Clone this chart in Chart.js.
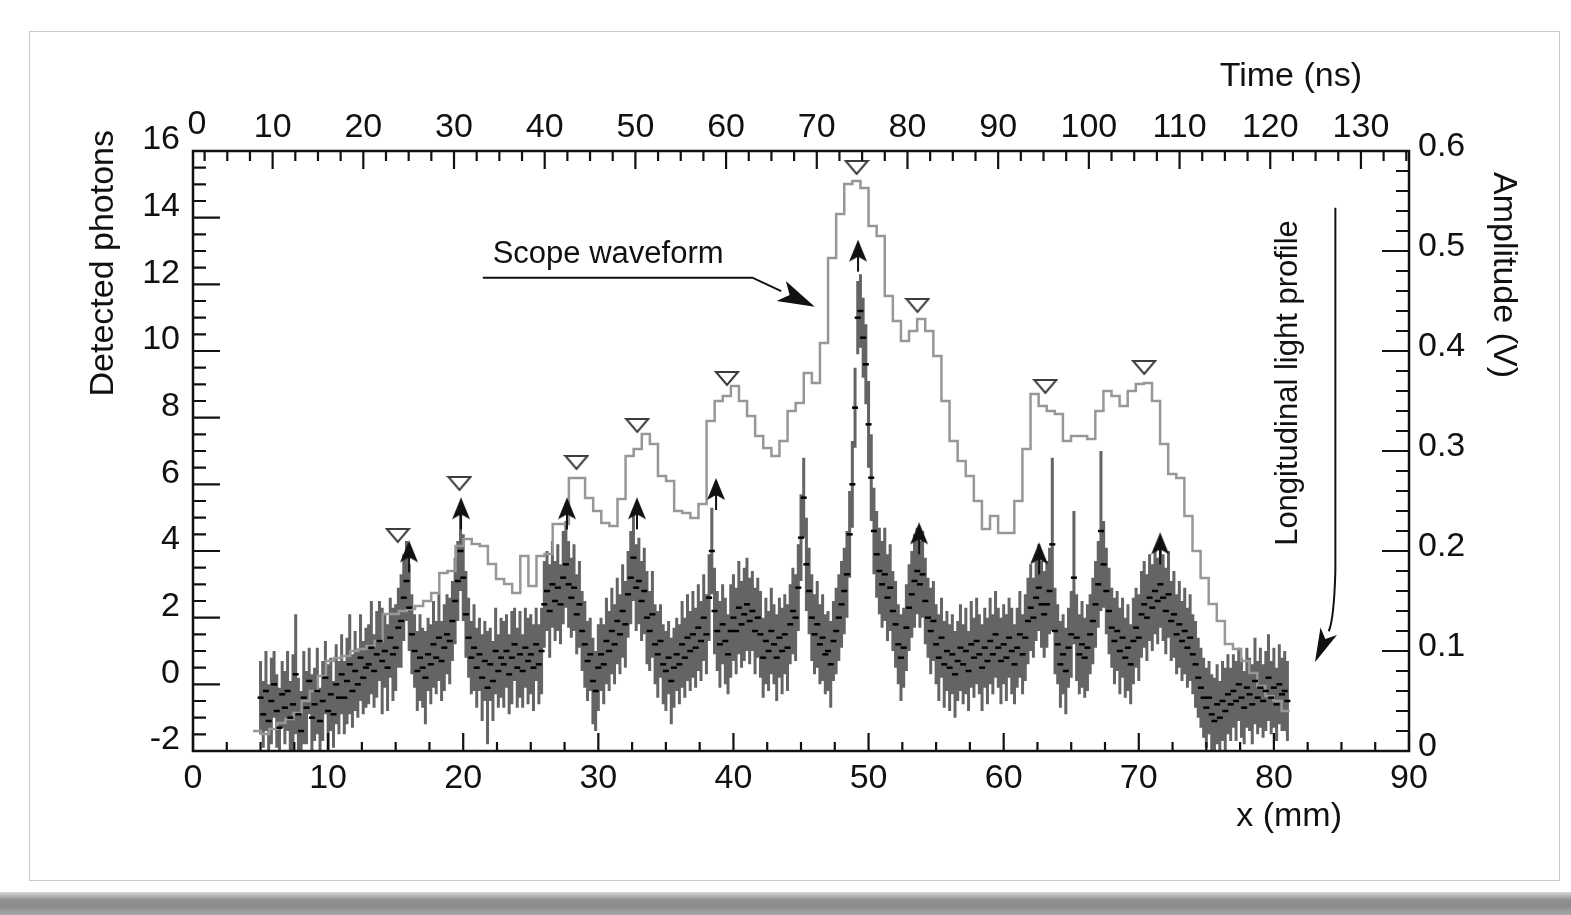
<!DOCTYPE html>
<html>
<head>
<meta charset="utf-8">
<title>Scope waveform and longitudinal light profile</title>
<script src="https://cdn.jsdelivr.net/npm/chart.js@4.4.1/dist/chart.umd.min.js"></script>
<style>
  html, body { margin: 0; padding: 0; background: #ffffff; width: 1571px; height: 915px; overflow: hidden; }
  #shadow { position: absolute; left: 0; top: 892px; width: 1571px; height: 23px;
            background: linear-gradient(to bottom, #d6d6d6 0%, #8f8f8f 35%, #8a8a8a 60%, #a8a8a8 100%); }
  #card { position: absolute; left: 29px; top: 31px; width: 1529px; height: 848px;
          border: 1px solid #cbcbcb; background: #ffffff; }
  #wrap { position: absolute; left: 0; top: 0; width: 1571px; height: 915px; }
</style>
</head>
<body>
<div id="shadow"></div>
<div id="card"></div>
<div id="wrap"><canvas id="chart" width="1571" height="915"></canvas></div>
<script>
// ---- axis tick values ----
const xTicksMM       = [0, 10, 20, 30, 40, 50, 60, 70, 80, 90];
const timeTicksNs    = [0, 10, 20, 30, 40, 50, 60, 70, 80, 90, 100, 110, 120, 130];
const photonTicks    = [-2, 0, 2, 4, 6, 8, 10, 12, 14, 16];
const amplitudeTicks = [0, 0.1, 0.2, 0.3, 0.4, 0.5, 0.6];

// ---- longitudinal light profile: detected photons every 0.2 mm from x = 5.0 mm ----
const PROFILE_X0 = 5.0;
const PROFILE_DX = 0.2;
const photons = [
  -0.4, -0.9, -0.2, -1.1, -0.5,  0.0, -0.8, -1.3, -0.3, -0.7,
  -0.2, -1.0, -0.6,  0.3, -0.9, -1.4, -0.4, -0.7,  0.1, -1.0,
  -0.6, -0.2, -1.1, -0.5,  0.2, -0.8, -0.3, -0.9,  0.0, -0.4,
   0.3, -0.4,  0.1,  0.6, -0.2,  0.4,  0.0,  0.8,  0.2,  0.5,
   0.6,  1.1,  0.4,  0.9,  1.3,  0.7,  1.0,  0.5,  1.4,  0.9,
   1.1,  1.7,  1.9,  2.6,  3.1,  2.3,  1.5,  1.0,  0.4,  0.8,
   0.5,  0.2,  0.9,  0.6,  1.2,  0.8,  1.4,  0.7,  1.1,  1.5,
   1.3,  1.9,  2.5,  3.1,  4.0,  3.2,  2.1,  1.4,  0.8,  1.1,
   0.5,  0.9,  0.2,  0.7, -0.1,  0.6,  0.1,  1.0,  0.4,  0.8,
   0.6,  1.0,  0.3,  0.8,  1.2,  0.5,  0.9,  0.4,  1.1,  0.7,
   0.9,  0.5,  1.2,  0.6,  1.0,  2.4,  2.8,  2.2,  3.0,  2.5,
   2.9,  2.4,  3.2,  3.6,  3.0,  2.6,  2.9,  2.1,  2.4,  1.6,
   1.2,  0.7,  0.9,  0.1, -0.2,  0.5,  0.9,  0.6,  1.3,  1.0,
   1.6,  1.2,  1.9,  1.5,  2.2,  1.8,  2.7,  3.2,  3.8,  2.9,
   3.1,  2.5,  2.8,  2.0,  1.6,  2.1,  1.2,  0.9,  1.3,  0.6,
   0.4,  0.8,  0.1,  0.5,  0.9,  0.6,  1.2,  0.8,  1.4,  1.0,
   1.5,  1.1,  1.7,  1.3,  2.0,  1.5,  2.6,  4.0,  2.2,  1.6,
   1.2,  1.8,  1.3,  0.9,  1.6,  2.0,  1.6,  2.3,  1.8,  2.1,
   2.4,  1.9,  2.2,  1.6,  2.0,  1.5,  0.8,  1.3,  1.0,  1.6,
   1.2,  0.8,  1.4,  1.0,  1.5,  1.1,  1.8,  2.2,  2.0,  2.9,
   4.4,  5.6,  3.6,  2.8,  2.0,  1.5,  1.8,  1.2,  1.4,  0.9,
   1.0,  0.6,  1.3,  1.6,  2.0,  2.4,  2.8,  3.3,  4.5,  6.0,
   8.3, 11.0, 11.2, 10.4,  9.6,  7.8,  6.2,  4.6,  3.9,  3.4,
   3.0,  3.3,  2.6,  2.9,  2.2,  1.8,  1.2,  0.8,  1.1,  1.7,
   2.3,  2.7,  3.1,  3.4,  3.0,  3.3,  2.5,  2.0,  1.6,  1.9,
   1.2,  0.8,  1.4,  0.6,  1.0,  0.5,  0.9,  0.3,  0.7,  1.1,
   0.6,  1.0,  0.4,  1.2,  0.8,  1.3,  0.9,  0.5,  1.1,  0.7,
   1.3,  0.9,  1.5,  1.1,  0.7,  1.2,  0.8,  1.4,  1.0,  0.6,
   1.1,  1.5,  0.9,  1.4,  1.9,  2.3,  2.0,  2.6,  2.9,  2.4,
   2.1,  2.4,  2.8,  4.2,  1.6,  1.2,  0.6,  0.9,  0.4,  1.1,
   1.5,  3.2,  1.4,  0.9,  1.2,  0.8,  1.1,  1.5,  1.9,  2.4,
   3.0,  4.6,  3.6,  2.8,  2.2,  1.7,  1.3,  1.6,  1.0,  1.4,
   0.8,  1.1,  0.6,  1.3,  1.7,  1.4,  2.1,  2.4,  2.0,  2.6,
   2.3,  2.8,  2.5,  3.0,  2.6,  2.2,  2.7,  1.9,  2.1,  1.5,
   1.8,  1.3,  1.6,  1.1,  1.4,  0.9,  0.6,  0.2, -0.1, -0.4,
  -0.7, -0.4, -0.9, -1.1, -0.6, -1.0, -0.5, -0.8, -0.3, -0.6,
  -0.2, -0.5,  0.0, -0.4, -0.7, -0.1, -0.3, -0.6,  0.1, -0.4,
  -0.1, -0.5, -0.2,  0.2, -0.4, -0.1, -0.6,  0.0, -0.3, -0.2,
  -0.5
];
// half-length of each error bar, in tenths of a photon
const photonErr10 = [
  11, 10, 12, 11, 13, 10, 11, 12, 10, 11,
  12, 11, 15, 18, 11, 12, 14, 11, 10, 13,
  11, 13, 10, 12, 11, 14, 11, 10, 12, 11,
  12, 11, 13, 15, 11, 12, 10, 13, 11, 12,
  12, 14, 11, 13, 12, 16, 11, 13, 12, 14,
  13, 12, 14, 13, 12, 13, 12, 11, 12, 13,
  12, 14, 11, 12, 13, 11, 13, 12, 13, 12,
  13, 12, 13, 12, 12, 13, 13, 12, 11, 13,
  12, 11, 13, 12, 17, 11, 12, 13, 11, 12,
  13, 11, 12, 14, 11, 12, 13, 11, 12, 13,
  12, 13, 11, 12, 13, 13, 12, 14, 13, 12,
  13, 12, 14, 13, 13, 12, 13, 12, 13, 12,
  13, 12, 11, 13, 12, 13, 11, 12, 13, 12,
  13, 12, 13, 12, 14, 13, 13, 14, 13, 13,
  13, 12, 13, 14, 12, 13, 12, 13, 11, 12,
  12, 11, 13, 12, 11, 12, 13, 12, 13, 12,
  13, 12, 13, 12, 13, 12, 13, 13, 13, 12,
  13, 12, 13, 12, 14, 13, 13, 14, 13, 14,
  14, 13, 12, 13, 12, 13, 12, 13, 12, 13,
  12, 13, 12, 13, 12, 13, 12, 13, 13, 13,
  13, 12, 14, 13, 13, 12, 13, 12, 13, 12,
  12, 13, 12, 13, 13, 13, 13, 13, 13, 13,
  12, 11, 11, 12, 12, 13, 13, 13, 13, 13,
  13, 14, 13, 13, 12, 13, 12, 13, 12, 13,
  13, 13, 14, 13, 13, 13, 13, 12, 13, 12,
  12, 13, 12, 13, 12, 13, 12, 13, 12, 13,
  12, 13, 12, 13, 12, 13, 12, 13, 12, 13,
  13, 12, 13, 12, 13, 12, 13, 12, 13, 12,
  12, 13, 12, 13, 13, 13, 12, 13, 13, 13,
  13, 13, 13, 26, 13, 12, 13, 12, 13, 12,
  13, 20, 13, 12, 13, 12, 13, 12, 13, 13,
  13, 24, 13, 13, 13, 12, 13, 12, 13, 12,
  12, 13, 12, 13, 12, 13, 13, 13, 13, 13,
  13, 13, 13, 13, 13, 13, 13, 12, 13, 12,
  13, 12, 13, 12, 13, 12, 13, 12, 12, 12,
  12, 11, 12, 13, 12, 11, 12, 13, 12, 11,
  11, 12, 11, 12, 11, 12, 11, 12, 13, 11,
  12, 11, 12, 13, 11, 12, 11, 12, 11, 12,
  12
];

// ---- scope waveform: amplitude (V) per time bin ----
const WF_T0 = 7.84;   // ns, left edge of the first bin
const WF_DT = 0.893;  // ns, bin width
const amplitude = [
  0.020, 0.017, 0.022, 0.028, 0.032, 0.038, 0.050, 0.060, 0.075, 0.090,
  0.093, 0.095, 0.100, 0.102, 0.105, 0.110, 0.137, 0.137, 0.140, 0.142,
  0.145, 0.150, 0.158, 0.178, 0.180, 0.205, 0.212, 0.207, 0.205, 0.187,
  0.172, 0.167, 0.158, 0.195, 0.165, 0.195, 0.197, 0.227, 0.227, 0.273,
  0.273, 0.253, 0.240, 0.228, 0.225, 0.252, 0.295, 0.302, 0.317, 0.307,
  0.275, 0.270, 0.240, 0.238, 0.233, 0.247, 0.330, 0.350, 0.355, 0.365,
  0.350, 0.335, 0.315, 0.303, 0.295, 0.310, 0.340, 0.348, 0.378, 0.368,
  0.408, 0.493, 0.537, 0.567, 0.570, 0.563, 0.525, 0.515, 0.455, 0.430,
  0.410, 0.420, 0.432, 0.420, 0.395, 0.350, 0.310, 0.290, 0.275, 0.250,
  0.222, 0.235, 0.218, 0.218, 0.250, 0.302, 0.357, 0.345, 0.340, 0.337,
  0.310, 0.315, 0.315, 0.312, 0.340, 0.360, 0.355, 0.345, 0.360, 0.367,
  0.368, 0.350, 0.307, 0.277, 0.273, 0.235, 0.200, 0.173, 0.147, 0.130,
  0.107, 0.102, 0.090, 0.078, 0.065, 0.055, 0.050, 0.040
];

// ---- peak markers ----
const waveformPeakTime = [23.8, 30.6, 43.5, 50.2, 60.1, 74.4, 81.1, 95.2, 106.1];
const waveformPeakAmp  = [0.216, 0.268, 0.289, 0.326, 0.373, 0.584, 0.446, 0.365, 0.384];
const profilePeakX     = [15.99, 19.84, 27.68, 32.86, 38.71, 49.22, 53.74, 62.62, 71.58];
const profilePeakY     = [3.72, 5.01, 5.01, 5.01, 5.59, 12.74, 4.26, 3.66, 3.96];

// ---- annotation anchors (x in mm, y in detected photons) ----
const scopeLabel   = { text: 'Scope waveform', x: 22.18, y: 12.89 };
const scopeArrow   = [[21.45, 12.20], [41.40, 12.20], [46.02, 11.33]];
const profileLabel = { text: 'Longitudinal light profile', x: 81.1, y: 9.04 };
const profileArrow = { top: [84.55, 14.30], bend: [84.55, 3.40], ctrl: [84.45, 1.95], tip: [83.04, 0.66] };

const FONT = '"Liberation Sans", Arial, Helvetica, sans-serif';
const INK = '#111111';

// ---- marker images ----
function triangleMarker() {
  const c = document.createElement('canvas');
  c.width = 26; c.height = 18;
  const g = c.getContext('2d');
  g.fillStyle = '#ffffff';
  g.strokeStyle = '#3c3c3c';
  g.lineWidth = 2;
  g.beginPath();
  g.moveTo(2, 3); g.lineTo(24, 3); g.lineTo(13, 16); g.closePath();
  g.fill(); g.stroke();
  return c;
}
function arrowMarker() {
  const c = document.createElement('canvas');
  c.width = 20; c.height = 40;
  const g = c.getContext('2d');
  g.fillStyle = INK;
  g.fillRect(9, 12, 2, 20);
  g.beginPath();
  g.moveTo(10, 0); g.lineTo(19, 22); g.lineTo(10, 17); g.lineTo(1, 22); g.closePath();
  g.fill();
  return c;
}

// ---- datasets built from the arrays ----
const profilePoints = photons.map((v, i) => ({ x: +(PROFILE_X0 + i * PROFILE_DX).toFixed(2), y: v }));
// one point per bin left edge, plus the right edge of the last bin
const waveformPoints = amplitude.map((a, i) => ({ x: WF_T0 + i * WF_DT, y: a }));
waveformPoints.push({ x: WF_T0 + amplitude.length * WF_DT, y: amplitude[amplitude.length - 1] });
const trianglePoints = waveformPeakTime.map((t, i) => ({ x: t, y: waveformPeakAmp[i] }));
const arrowPoints = profilePeakX.map((x, i) => ({ x: x, y: profilePeakY[i] }));

// ---- helpers for the frame and annotations ----
function drawTicks(ctx, scale, area, minorStep, majorStep, majorLen, minorLen) {
  const first = Math.ceil(scale.min / minorStep - 1e-6);
  const last = Math.floor(scale.max / minorStep + 1e-6);
  ctx.beginPath();
  for (let k = first; k <= last; k++) {
    const v = k * minorStep;
    const r = v / majorStep;
    const len = Math.abs(r - Math.round(r)) < 1e-6 ? majorLen : minorLen;
    const p = scale.getPixelForValue(v);
    if (scale.position === 'bottom') { ctx.moveTo(p, area.bottom); ctx.lineTo(p, area.bottom - len); }
    else if (scale.position === 'top') { ctx.moveTo(p, area.top); ctx.lineTo(p, area.top + len); }
    else if (scale.position === 'left') { ctx.moveTo(area.left, p); ctx.lineTo(area.left + len, p); }
    else { ctx.moveTo(area.right, p); ctx.lineTo(area.right - len, p); }
  }
  ctx.stroke();
}
function arrowHead(ctx, fromX, fromY, tipX, tipY, len, half) {
  const ang = Math.atan2(tipY - fromY, tipX - fromX);
  const bx = tipX - len * Math.cos(ang), by = tipY - len * Math.sin(ang);
  const nx = -Math.sin(ang), ny = Math.cos(ang);
  ctx.beginPath();
  ctx.moveTo(tipX, tipY);
  ctx.lineTo(bx + nx * half, by + ny * half);
  ctx.lineTo(bx + 0.25 * len * Math.cos(ang), by + 0.25 * len * Math.sin(ang));
  ctx.lineTo(bx - nx * half, by - ny * half);
  ctx.closePath();
  ctx.fill();
  return [bx, by];
}

const decorations = {
  id: 'decorations',
  beforeDatasetsDraw(chart) {
    // vertical error bars of the light profile
    const ctx = chart.ctx, xs = chart.scales.x, ys = chart.scales.y, a = chart.chartArea;
    ctx.save();
    ctx.beginPath();
    ctx.rect(a.left, a.top, a.right - a.left, a.bottom - a.top);
    ctx.clip();
    ctx.strokeStyle = '#646464';
    ctx.lineWidth = 3;
    ctx.beginPath();
    photons.forEach((v, i) => {
      const px = xs.getPixelForValue(PROFILE_X0 + i * PROFILE_DX);
      const e = photonErr10[i] / 10;
      ctx.moveTo(px, ys.getPixelForValue(v - e));
      ctx.lineTo(px, ys.getPixelForValue(v + e));
    });
    ctx.stroke();
    ctx.restore();
  },
  afterDraw(chart) {
    const ctx = chart.ctx, a = chart.chartArea, s = chart.scales;
    ctx.save();
    // frame and inward ticks
    ctx.strokeStyle = INK;
    ctx.lineWidth = 2.5;
    ctx.strokeRect(a.left, a.top, a.right - a.left, a.bottom - a.top);
    ctx.lineWidth = 2.2;
    drawTicks(ctx, s.x, a, 2.5, 10, 18, 9);
    drawTicks(ctx, s.x2, a, 2.5, 10, 18, 10);
    drawTicks(ctx, s.y, a, 0.5, 2, 27, 13);
    drawTicks(ctx, s.y2, a, 0.02, 0.1, 27, 13);

    ctx.fillStyle = INK;
    // first label of the time axis sits at the corner of the frame
    ctx.font = '34px ' + FONT;
    ctx.textAlign = 'center';
    ctx.textBaseline = 'middle';
    ctx.fillText(String(timeTicksNs[0]), a.left + 4, a.top - 26);

    // axis titles
    ctx.textAlign = 'right';
    ctx.fillText('Time (ns)', a.right - 47, a.top - 74);
    ctx.fillText('x (mm)', a.right - 67, a.bottom + 66);
    ctx.save();
    ctx.translate(104, 130);
    ctx.rotate(-Math.PI / 2);
    ctx.textAlign = 'right';
    ctx.fillText('Detected photons', 0, 0);
    ctx.restore();
    ctx.save();
    ctx.translate(1503, 172);
    ctx.rotate(Math.PI / 2);
    ctx.textAlign = 'left';
    ctx.fillText('Amplitude (V)', 0, 0);
    ctx.restore();

    // annotations
    const X = v => s.x.getPixelForValue(v), Y = v => s.y.getPixelForValue(v);
    ctx.font = '31px ' + FONT;
    ctx.textAlign = 'left';
    ctx.fillText(scopeLabel.text, X(scopeLabel.x), Y(scopeLabel.y));
    ctx.save();
    ctx.translate(X(profileLabel.x), Y(profileLabel.y));
    ctx.rotate(-Math.PI / 2);
    ctx.textAlign = 'center';
    ctx.fillText(profileLabel.text, 0, 0);
    ctx.restore();

    ctx.strokeStyle = INK;
    ctx.lineWidth = 2;
    // scope waveform arrow
    const p0 = scopeArrow[0], p1 = scopeArrow[1], p2 = scopeArrow[2];
    const base1 = arrowHead(ctx, X(p1[0]), Y(p1[1]), X(p2[0]), Y(p2[1]), 37, 11);
    ctx.beginPath();
    ctx.moveTo(X(p0[0]), Y(p0[1]));
    ctx.lineTo(X(p1[0]), Y(p1[1]));
    ctx.lineTo(base1[0], base1[1]);
    ctx.stroke();
    // light profile arrow
    const pa = profileArrow;
    const base2 = arrowHead(ctx, X(pa.ctrl[0]), Y(pa.ctrl[1]), X(pa.tip[0]), Y(pa.tip[1]), 34, 9);
    ctx.beginPath();
    ctx.moveTo(X(pa.top[0]), Y(pa.top[1]));
    ctx.lineTo(X(pa.bend[0]), Y(pa.bend[1]));
    ctx.quadraticCurveTo(X(pa.ctrl[0]), Y(pa.ctrl[1]), base2[0], base2[1]);
    ctx.stroke();
    ctx.restore();
  }
};

const tickFont = { family: FONT, size: 34 };
const fixedTicks = arr => scale => { scale.ticks = arr.map(v => ({ value: v })); };

new Chart(document.getElementById('chart'), {
  data: {
    datasets: [
      {
        type: 'scatter', label: 'Longitudinal light profile', data: profilePoints,
        xAxisID: 'x', yAxisID: 'y', order: 1,
        pointStyle: 'line', pointRadius: 3, pointBorderWidth: 2.5,
        pointBorderColor: '#000000', pointBackgroundColor: '#000000'
      },
      {
        type: 'line', label: 'Scope waveform', data: waveformPoints,
        xAxisID: 'x2', yAxisID: 'y2', order: 2, stepped: 'before',
        borderColor: '#979797', borderWidth: 2.5, pointRadius: 0, fill: false
      },
      {
        type: 'scatter', label: 'waveform peaks', data: trianglePoints,
        xAxisID: 'x2', yAxisID: 'y2', order: 0,
        pointStyle: triangleMarker(), pointRadius: 10
      },
      {
        type: 'scatter', label: 'profile peaks', data: arrowPoints,
        xAxisID: 'x', yAxisID: 'y', order: 0,
        pointStyle: arrowMarker(), pointRadius: 10
      }
    ]
  },
  options: {
    responsive: false,
    animation: false,
    devicePixelRatio: 1,
    layout: { padding: 0 },
    plugins: { legend: { display: false }, tooltip: { enabled: false } },
    scales: {
      x: {
        type: 'linear', position: 'bottom', min: 0, max: 90,
        afterBuildTicks: fixedTicks(xTicksMM),
        afterFit: sc => { sc.height = 164; },
        grid: { display: false, drawTicks: false }, border: { display: false },
        ticks: { font: tickFont, color: INK, padding: 7, maxRotation: 0, autoSkip: false, callback: v => String(v) }
      },
      x2: {
        type: 'linear', position: 'top', min: 1.22, max: 135.3,
        afterBuildTicks: fixedTicks(timeTicksNs.slice(1)),
        afterFit: sc => { sc.height = 151; },
        grid: { display: false, drawTicks: false }, border: { display: false },
        ticks: { font: tickFont, color: INK, padding: 3, maxRotation: 0, autoSkip: false, callback: v => String(v) }
      },
      y: {
        type: 'linear', position: 'left', min: -2, max: 16,
        afterBuildTicks: fixedTicks(photonTicks),
        afterFit: sc => { sc.width = 193; },
        grid: { display: false, drawTicks: false }, border: { display: false },
        ticks: { font: tickFont, color: INK, padding: 13, labelOffset: -11, autoSkip: false, callback: v => String(v) }
      },
      y2: {
        type: 'linear', position: 'right', min: 0, max: 0.6,
        afterBuildTicks: fixedTicks(amplitudeTicks),
        afterFit: sc => { sc.width = 162; },
        grid: { display: false, drawTicks: false }, border: { display: false },
        ticks: { font: tickFont, color: INK, padding: 9, labelOffset: -4, autoSkip: false, callback: v => String(v) }
      }
    }
  },
  plugins: [decorations]
});
</script>
</body>
</html>
